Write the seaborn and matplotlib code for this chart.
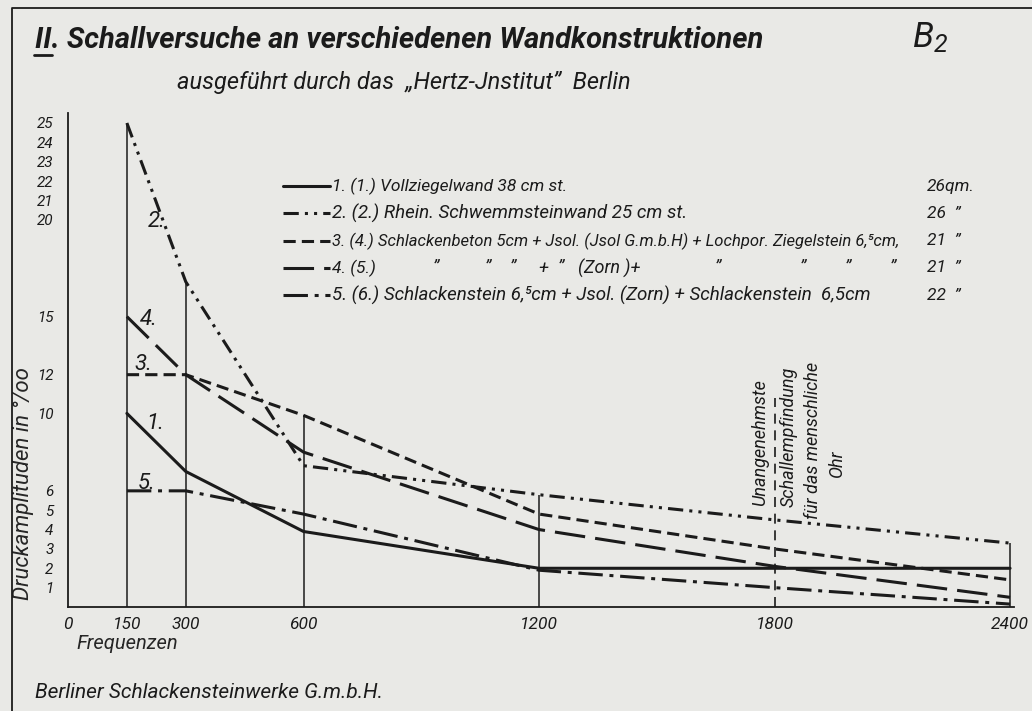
import numpy as np
import pandas as pd
import matplotlib
matplotlib.use("Agg")
import matplotlib.pyplot as plt
from matplotlib.lines import Line2D
import seaborn as sns

# measured frequencies (Hz) and pressure amplitudes (per mille)
freq = [150, 300, 600, 1200, 1800, 2400]
wand1 = [10.0, 7.0, 3.9, 2.0, 2.0, 2.0]
wand2 = [25.0, 16.8, 7.3, 5.8, 4.5, 3.3]
wand3 = [12.0, 12.0, 9.9, 4.8, 3.0, 1.4]
wand4 = [15.0, 12.0, 8.0, 4.0, 2.1, 0.5]
wand5 = [6.0, 6.0, 4.8, 1.9, 1.0, 0.15]

wall_names = ["1.", "2.", "3.", "4.", "5."]
xtick_vals = [0, 150, 300, 600, 1200, 1800, 2400]
ytick_vals = list(range(1, 26))
ytick_shown = [1, 2, 3, 4, 5, 6, 10, 12, 15, 20, 21, 22, 23, 24, 25]
limit_freq = 1800
limit_top = 10.8

legend_rows = [
    "1. (1.) Vollziegelwand 38 cm st.",
    "2. (2.) Rhein. Schwemmsteinwand 25 cm st.",
    "3. (4.) Schlackenbeton 5cm + Jsol. (Jsol G.m.b.H) + Lochpor. Ziegelstein 6,\u2075cm,",
    "4. (5.)",
    "5. (6.) Schlackenstein 6,\u2075cm + Jsol. (Zorn) + Schlackenstein  6,5cm",
]
areas = ["26qm.", "26  \u201d", "21  \u201d", "21  \u201d", "22  \u201d"]

df = pd.DataFrame({
    "freq": freq * 5,
    "amp": wand1 + wand2 + wand3 + wand4 + wand5,
    "wall": [w for w in wall_names for _ in freq],
})

ink = "#1b1b1b"
paper = "#e9e9e6"
dash_map = {
    "1.": "",
    "2.": (5, 2, 1, 2, 1, 2),
    "3.": (4, 2),
    "4.": (10, 3.3),
    "5.": (8, 2.2, 1.3, 2.2),
}

sns.set_theme(style="white")
plt.rcParams["font.family"] = ["Roboto", "DejaVu Sans"]
plt.rcParams["font.style"] = "italic"
plt.rcParams["text.color"] = ink

W, H = 1032, 711
fig = plt.figure(figsize=(W / 100, H / 100), dpi=100, facecolor=paper)


def fx(px):
    return px / W


def fy(py):
    return 1 - py / H


ax = fig.add_axes([fx(68), fy(607), (1014 - 68) / W, 25.5 * 19.36 / H])
ax.set_facecolor(paper)

# measurement verticals up to the highest curve
tops = df.groupby("freq")["amp"].max()
guide_x = [f for f in freq if f != limit_freq]
ax.vlines(guide_x, 0, tops.loc[guide_x].values, color=ink, lw=1.1)
ax.vlines(limit_freq, 0, limit_top, color=ink, lw=1.2, linestyles=(0, (6, 4)))

sns.lineplot(data=df, x="freq", y="amp", style="wall", dashes=dash_map,
             color=ink, lw=2.2, legend=False, ax=ax, sort=False)

ax.set_xlim(0, 2410)
ax.set_ylim(0, 25.5)
for s in ["top", "right"]:
    ax.spines[s].set_visible(False)
for s in ["left", "bottom"]:
    ax.spines[s].set_color(ink)
    ax.spines[s].set_linewidth(1.3)

ax.set_xticks(xtick_vals)
ax.set_xticklabels([str(v) for v in xtick_vals], fontsize=12.5)
ax.tick_params(axis="x", length=0, pad=7, colors=ink)
ax.set_yticks(ytick_vals)
ax.set_yticklabels([str(v) if v in ytick_shown else "" for v in ytick_vals],
                   fontsize=11)
ax.tick_params(axis="y", direction="inout", length=13, width=1.3,
               pad=4, colors=ink)

ax.set_xlabel("Frequenzen", fontsize=14.5)
ax.xaxis.set_label_coords(0.063, -0.055)
ax.xaxis.label.set_va("top")
ax.set_ylabel("Druckamplituden in \u00b0/oo", fontsize=16)
ax.yaxis.set_label_coords(-0.036, 0.25)

# curve numbers
ax.text(227, 19.9, "2.", fontsize=16, ha="center", va="center")
ax.text(205, 14.85, "4.", fontsize=16, ha="center", va="center")
ax.text(192, 12.5, "3.", fontsize=16, ha="center", va="center")
ax.text(222, 9.5, "1.", fontsize=16, ha="center", va="center")
ax.text(200, 6.4, "5.", fontsize=16, ha="center", va="center")

# note at the 1800 Hz line
ax.text(1763, 8.5, "Unangenehmste", rotation=90, fontsize=13,
        ha="center", va="center")
ax.text(1837, 8.8, "Schallempfindung", rotation=90, fontsize=13,
        ha="center", va="center")
ax.text(1899, 8.6, "f\u00fcr das menschliche", rotation=90, fontsize=13,
        ha="center", va="center")
ax.text(1959, 7.4, "Ohr", rotation=90, fontsize=13, ha="center", va="center")

# hand-drawn legend
row_y = [186, 213, 241, 268, 295]
row_size = [12.5, 13.5, 12, 12.5, 13.5]
for name, label, area, y, fs in zip(wall_names, legend_rows, areas, row_y, row_size):
    d = dash_map[name]
    ls = "-" if d == "" else (0, d)
    fig.add_artist(Line2D([fx(283), fx(330)], [fy(y), fy(y)], color=ink,
                          lw=2.2, ls=ls, transform=fig.transFigure))
    fig.text(fx(332), fy(y), label, fontsize=fs, va="center")
    fig.text(fx(927), fy(y), area, fontsize=12.5, va="center")

ditto = [(433, "\u201d"), (485, "\u201d"), (510, "\u201d"), (538, "+"),
         (558, "\u201d"), (578, "(Zorn )+"), (715, "\u201d"), (800, "\u201d"),
         (845, "\u201d"), (890, "\u201d")]
for x, t in ditto:
    fig.text(fx(x), fy(268), t, fontsize=13, va="center")

# titles
fig.text(fx(35), fy(40), "II. Schallversuche an verschiedenen Wandkonstruktionen",
         fontsize=21, fontweight="bold", va="center")
fig.add_artist(Line2D([fx(34), fx(52)], [fy(55), fy(55)], color=ink, lw=2,
                      transform=fig.transFigure))
fig.text(fx(177), fy(83), "ausgef\u00fchrt durch das  \u201eHertz-Jnstitut\u201d  Berlin",
         fontsize=17, va="center")
fig.text(fx(913), fy(37), "B", fontsize=25, va="center")
fig.text(fx(934), fy(45), "2", fontsize=18, va="center")
fig.text(fx(35), fy(692), "Berliner Schlackensteinwerke G.m.b.H.",
         fontsize=15, va="center")

# sheet border
fig.add_artist(Line2D([fx(12), fx(12), fx(1032)], [fy(711), fy(8), fy(8)],
                      color=ink, lw=1.3, transform=fig.transFigure))

fig.savefig("out.png", dpi=100, facecolor=paper)
